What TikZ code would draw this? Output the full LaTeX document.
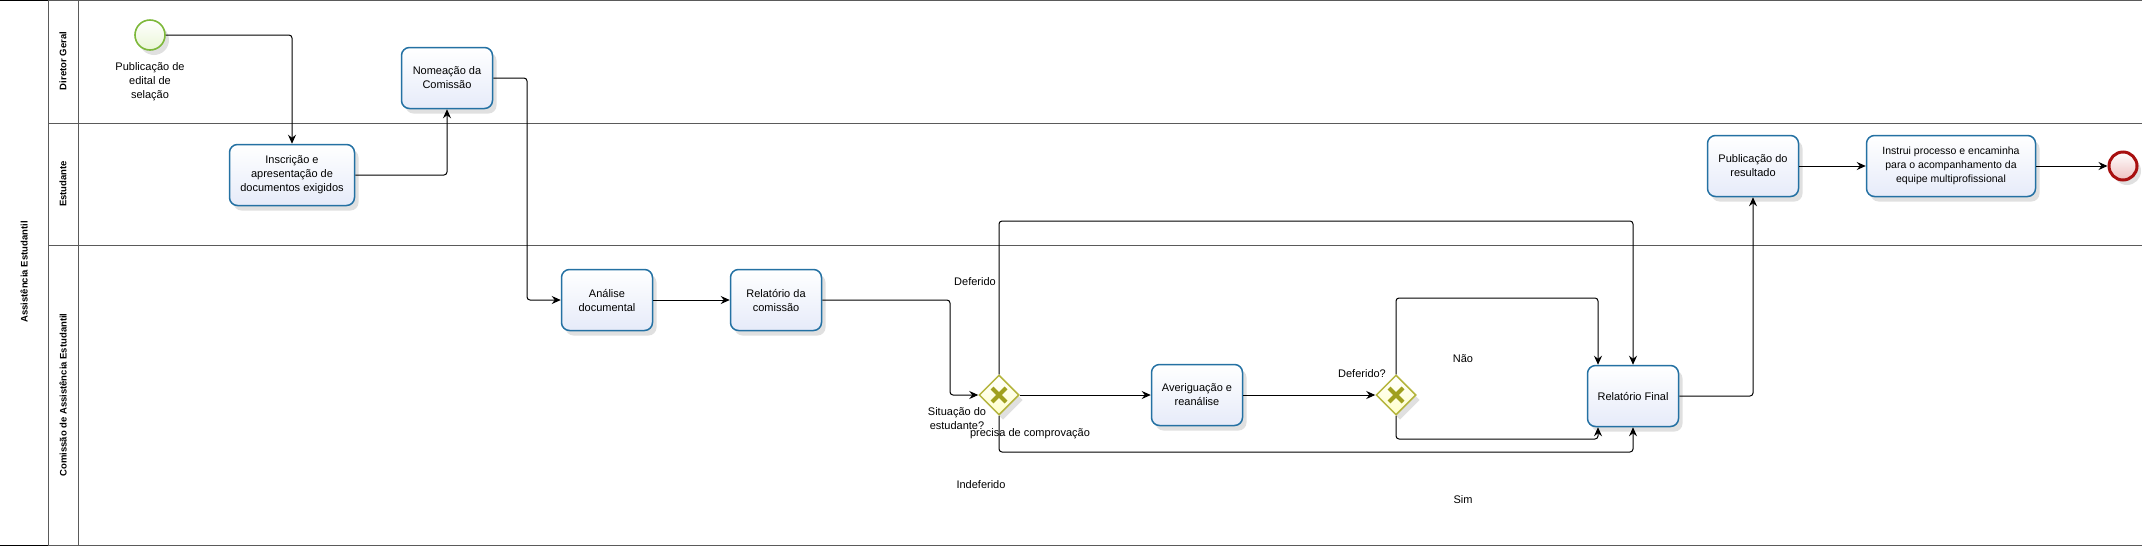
\documentclass[tikz,border=0pt]{standalone}
\usepackage{fontspec}
\setmainfont{Liberation Sans}
\usetikzlibrary{arrows.meta,shapes.geometric,shadows}

\definecolor{taskline}{HTML}{2471A3}
\definecolor{taskfill}{HTML}{E6EBF9}
\definecolor{gateline}{HTML}{B4B43C}
\definecolor{gatefill}{HTML}{FFFFC8}
\definecolor{gatecross}{HTML}{A0A01E}
\definecolor{startline}{HTML}{7DB83A}
\definecolor{startfill}{HTML}{EAF6D6}
\definecolor{endline}{HTML}{A81010}
\definecolor{endfill}{HTML}{EEC0C0}
\definecolor{laneline}{HTML}{5A5A5A}

\begin{document}
\begin{tikzpicture}[x=1pt,y=-1pt,
    every node/.style={font=\fontsize{11}{14}\selectfont, align=center},
    boxshadow/.style={drop shadow={shadow xshift=4pt,shadow yshift=-5pt,opacity=.2,fill=black!60}},
    task/.style={rectangle, rounded corners=8pt, draw=taskline, line width=1.5pt,
        top color=white, bottom color=taskfill, inner sep=2pt,
        minimum width=91pt, minimum height=61pt, boxshadow},
    gate/.style={diamond, draw=gateline, line width=1.5pt, top color=white,
        bottom color=gatefill, minimum width=40pt, minimum height=40pt, inner sep=0pt, boxshadow},
    start/.style={circle, draw=startline, line width=1.6pt, top color=white,
        bottom color=startfill, minimum size=30pt, inner sep=0pt, boxshadow},
    finish/.style={circle, draw=endline, line width=3pt, top color=white,
        bottom color=endfill, minimum size=28pt, inner sep=0pt, boxshadow},
    flow/.style={draw, line width=1pt, rounded corners=3pt,
        -{Stealth[length=9pt,width=8pt,inset=3pt]}},
    lane/.style={font=\fontsize{9.5}{11}\bfseries\selectfont, rotate=90},
    lbl/.style={inner sep=0pt}
]

\useasboundingbox (0,0) rectangle (2142,547);

% pool and lanes
\draw[line width=1pt] (0,0.5) -- (48,0.5) (0,545) -- (48,545);
\draw[laneline, line width=0.8pt] (48,0.5) -- (2142,0.5) (48,545) -- (2142,545)
    (48,0) -- (48,545) (78,0) -- (78,545)
    (48,123) -- (2142,123) (48,245) -- (2142,245);

\node[lane] (pool) at (24,272) {Assistência Estudantil};
\node[lane] (lane1) at (63,61) {Diretor Geral};
\node[lane] (lane2) at (63,184) {Estudante};
\node[lane] (lane3) at (63,395) {Comissão de Assistência Estudantil};

% events, tasks, gateways
\node[start] (s) at (150,35) {};
\node[lbl] (s-l) at (150,82) {Publicação de\\edital de\\selação};

\node[task, minimum width=125pt] (t1) at (292,175) {Inscrição e\\apresentação de\\documentos exigidos};
\node[task] (t2) at (447,78) {Nomeação da\\Comissão};
\node[task] (t3) at (607,300) {Análise\\documental};
\node[task] (t4) at (776,300) {Relatório da\\comissão};
\node[gate] (g1) at (999,395) {};
\node[task] (t5) at (1197,395) {Averiguação e\\reanálise};
\node[gate] (g2) at (1396,395) {};
\node[task] (t6) at (1633,396) {Relatório Final};
\node[task] (t7) at (1753,166) {Publicação do\\resultado};
\node[task, minimum width=169pt, font=\fontsize{10.5}{14}\selectfont] (t8) at (1951,166)
    {Instrui processo e encaminha\\para o acompanhamento da\\equipe multiprofissional};
\node[finish] (e) at (2123,166) {};

\foreach \g in {g1,g2}
    \draw[gatecross, line width=4pt] ([shift={(-7,-7)}]\g.center) -- ([shift={(7,7)}]\g.center)
        ([shift={(-7,7)}]\g.center) -- ([shift={(7,-7)}]\g.center);

% bends
\coordinate (b1) at (527,300);
\coordinate (b2) at (950,395);
\coordinate (b3) at (1633,221);
\coordinate (b4) at (1598,298);
\coordinate (b5) at (1598,439);
\coordinate (b6) at (1633,452);

\draw[flow] (s) -| (t1);
\draw[flow] (t1) -| (t2);
\draw[flow] (t2) -| (b1) -- (t3);
\draw[flow] (t3) -- (t4);
\draw[flow] (t4) -| (b2) -- (g1);
\draw[flow] (g1) -- (t5);
\draw[flow] (t5) -- (g2);
\draw[flow] (g1) |- (b3) -- (t6);
\draw[flow] (g2) |- (b4) -- (b4 |- t6.north);
\draw[flow] (g2) |- (b5) -- (b5 |- t6.south);
\draw[flow] (g1) |- (b6) -- (t6);
\draw[flow] (t6) -| (t7);
\draw[flow] (t7) -- (t8);
\draw[flow] (t8) -- (e);

% labels
\node[lbl] (q1) at (957,419) {Situação do\\estudante?};
\node[lbl] (l1) at (975,282) {Deferido};
\node[lbl] (l2) at (981,485) {Indeferido};
\node[lbl] (l3) at (1030,434) {precisa de comprovação};
\node[lbl] (q2) at (1362,374) {Deferido?};
\node[lbl] (l4) at (1463,359) {Não};
\node[lbl] (l5) at (1463,500) {Sim};

\end{tikzpicture}
\end{document}
